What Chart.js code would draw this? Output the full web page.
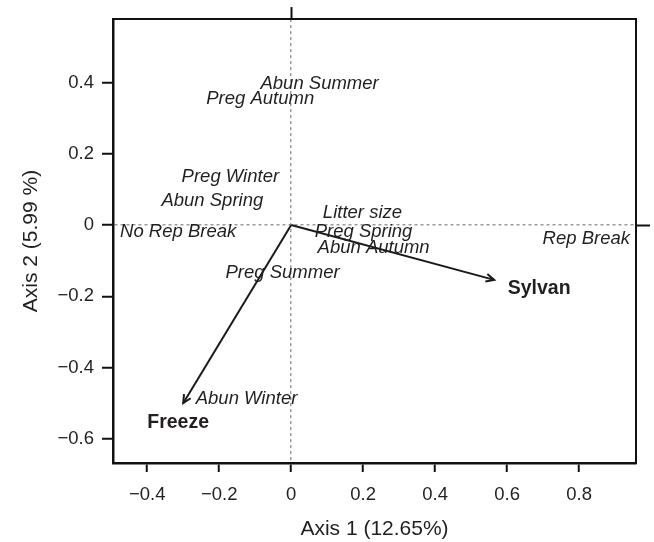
<!DOCTYPE html>
<html>
<head>
<meta charset="utf-8">
<script src="https://cdn.jsdelivr.net/npm/chart.js@4"></script>
<style>
  html, body { margin: 0; padding: 0; background: #fff; }
  #wrap { width: 654px; height: 542px; }
</style>
</head>
<body>
<div id="wrap"><canvas id="biplot" width="654" height="542"></canvas></div>
<script>
// 軸の範囲と目盛り
const xTicks = [-0.4, -0.2, 0, 0.2, 0.4, 0.6, 0.8];
const yTicks = [-0.6, -0.4, -0.2, 0, 0.2, 0.4];
const xRange = [-0.495, 0.958];
const yRange = [-0.668, 0.578];

// 変数ラベル（斜体）
const varNames = ['Abun Summer', 'Preg Autumn', 'Preg Winter', 'Abun Spring', 'No Rep Break',
                  'Litter size', 'Preg Spring', 'Abun Autumn', 'Preg Summer', 'Rep Break', 'Abun Winter'];
const varX = [0.079, -0.086, -0.169, -0.219, -0.314, 0.198, 0.201, 0.229, -0.024, 0.820, -0.124];
const varY = [0.397, 0.353, 0.134, 0.067, -0.020, 0.034, -0.020, -0.064, -0.134, -0.039, -0.488];

// 環境ベクトル（矢印）と太字ラベル
const envNames = ['Sylvan', 'Freeze'];
const envX = [0.564, -0.300];
const envY = [-0.154, -0.500];
const envLabelX = [0.689, -0.314];
const envLabelY = [-0.179, -0.556];

const FAMILY = '"Liberation Sans", Arial, Helvetica, sans-serif';
const INK = '#231f20';

function fmt(v) {
    if (v === 0) return '0';
    return (v < 0 ? '\u2212' : '') + Math.abs(v).toFixed(1);
}

// ラベルと矢じりの描画
const biplotText = {
    id: 'biplotText',
    afterDatasetsDraw(chart) {
        const { ctx, scales: { x, y } } = chart;
        ctx.save();
        ctx.fillStyle = INK;
        ctx.textAlign = 'center';
        ctx.textBaseline = 'middle';
        ctx.font = 'italic 18.5px ' + FAMILY;
        varNames.forEach((t, i) => {
            ctx.fillText(t, x.getPixelForValue(varX[i]), y.getPixelForValue(varY[i]));
        });
        ctx.font = 'bold 19.5px ' + FAMILY;
        envNames.forEach((t, i) => {
            ctx.fillText(t, x.getPixelForValue(envLabelX[i]), y.getPixelForValue(envLabelY[i]));
        });

        ctx.strokeStyle = '#1a1a1a';
        ctx.lineWidth = 2;
        chart.data.datasets.forEach((ds, i) => {
            const pts = chart.getDatasetMeta(i).data;
            const a = pts[0], b = pts[pts.length - 1];
            const ang = Math.atan2(b.y - a.y, b.x - a.x);
            const len = 9, spread = Math.PI / 7;
            ctx.beginPath();
            ctx.moveTo(b.x - len * Math.cos(ang - spread), b.y - len * Math.sin(ang - spread));
            ctx.lineTo(b.x, b.y);
            ctx.lineTo(b.x - len * Math.cos(ang + spread), b.y - len * Math.sin(ang + spread));
            ctx.stroke();
        });
        ctx.restore();
    }
};

const zeroGrid = c => (c.tick && c.tick.value === 0) ? '#9b9b9b' : 'rgba(0,0,0,0)';

const ctx = document.getElementById('biplot').getContext('2d');

const biplot = new Chart(ctx, {
    type: 'scatter',
    data: {
        datasets: envNames.map((name, i) => ({
            label: name,
            data: [{ x: 0, y: 0 }, { x: envX[i], y: envY[i] }],
            showLine: true,
            borderColor: '#1a1a1a',
            borderWidth: 2,
            pointRadius: 0,
            pointHoverRadius: 0
        }))
    },
    options: {
        responsive: false,
        animation: false,
        events: [],
        layout: { padding: 0 },
        plugins: {
            legend: { display: false },
            tooltip: { enabled: false }
        },
        scales: {
            x: {
                type: 'linear', position: 'bottom', min: xRange[0], max: xRange[1],
                afterBuildTicks: s => { s.ticks = xTicks.map(v => ({ value: v })); },
                afterFit: s => { s.height = 79; },
                ticks: { font: { family: FAMILY, size: 18.5 }, color: INK, padding: 12, callback: fmt },
                grid: { color: zeroGrid, lineWidth: 1.5, tickColor: '#111', tickWidth: 2, tickLength: 9, tickBorderDash: [] },
                border: { color: '#111', width: 2.5, dash: [3, 3] },
                title: { display: true, text: 'Axis 1 (12.65%)', color: INK,
                         font: { family: FAMILY, size: 21 }, padding: { top: 0, bottom: 0 } }
            },
            y: {
                type: 'linear', position: 'left', min: yRange[0], max: yRange[1],
                afterBuildTicks: s => { s.ticks = yTicks.map(v => ({ value: v })); },
                afterFit: s => { s.width = 113; },
                ticks: { font: { family: FAMILY, size: 18.5 }, color: INK, padding: 8, callback: fmt },
                grid: { color: zeroGrid, lineWidth: 1.5, tickColor: '#111', tickWidth: 2, tickLength: 11, tickBorderDash: [] },
                border: { color: '#111', width: 2.5, dash: [3, 3] },
                title: { display: true, text: 'Axis 2 (5.99 %)', color: INK,
                         font: { family: FAMILY, size: 21 }, padding: { top: 18.5, bottom: 0 } }
            },
            x2: {
                type: 'linear', position: 'top', min: xRange[0], max: xRange[1],
                afterBuildTicks: s => { s.ticks = [{ value: 0 }]; },
                afterFit: s => { s.height = 17; },
                ticks: { display: false },
                grid: { drawOnChartArea: false, tickColor: '#111', tickWidth: 2, tickLength: 12 },
                border: { color: '#111', width: 2 }
            },
            y2: {
                type: 'linear', position: 'right', min: yRange[0], max: yRange[1],
                afterBuildTicks: s => { s.ticks = [{ value: 0 }]; },
                afterFit: s => { s.width = 18; },
                ticks: { display: false },
                grid: { drawOnChartArea: false, tickColor: '#111', tickWidth: 2, tickLength: 14 },
                border: { color: '#111', width: 2 }
            }
        }
    },
    plugins: [biplotText]
});
</script>
</body>
</html>
